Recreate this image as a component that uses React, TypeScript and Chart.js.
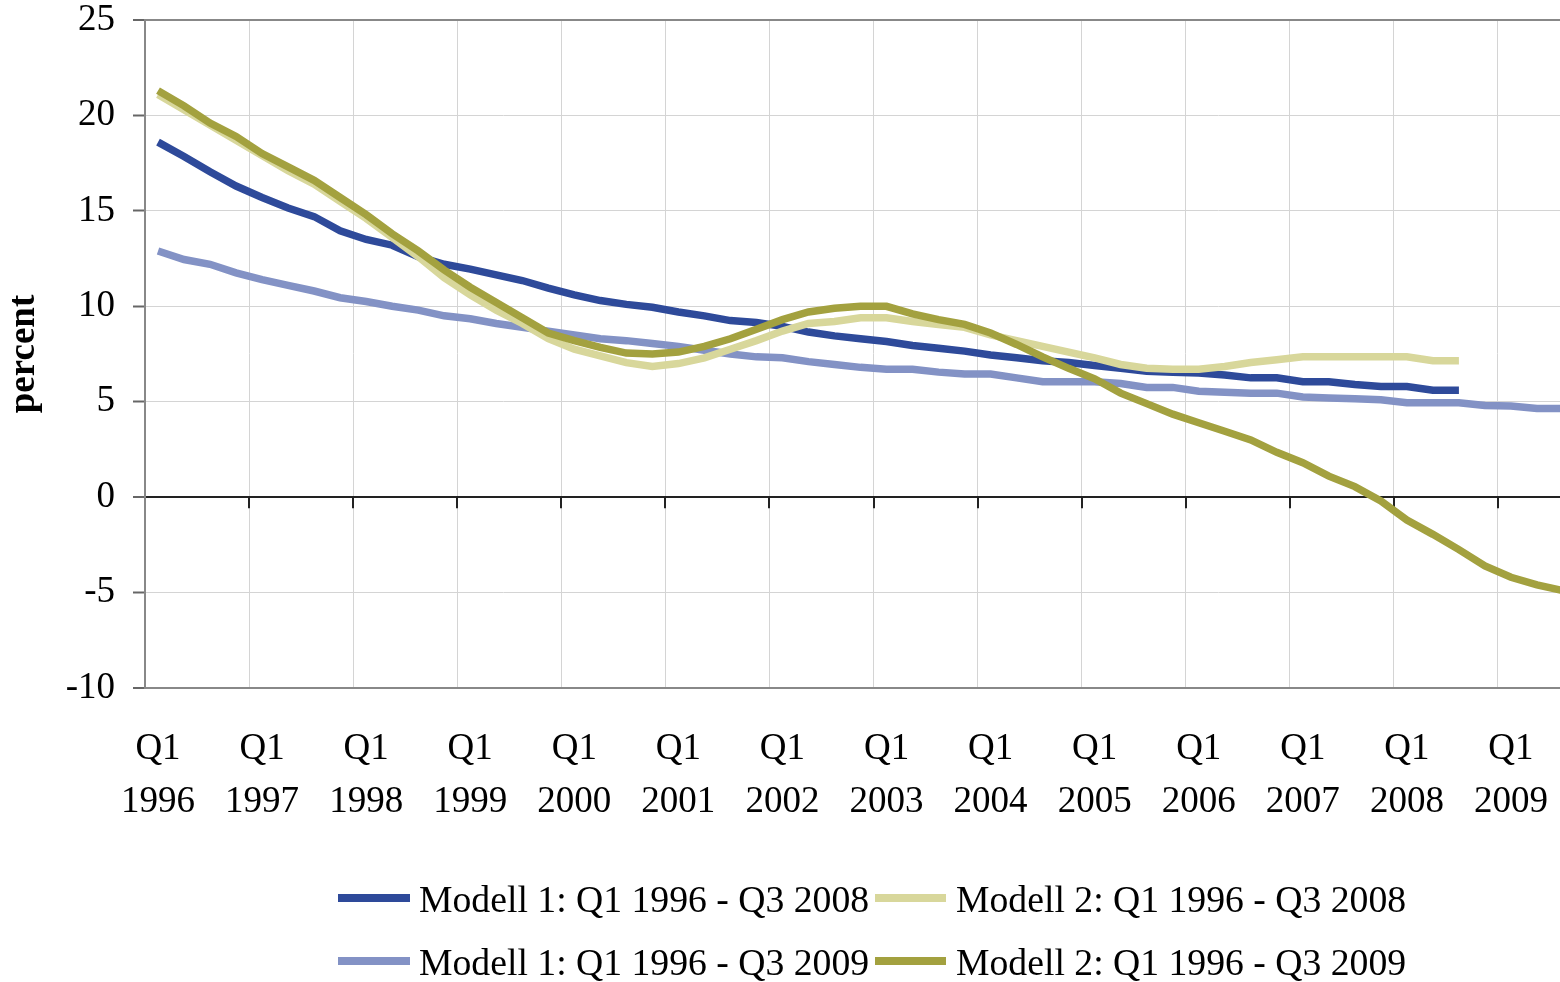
import { useEffect, useRef } from "react";
import { Chart, registerables } from "chart.js";

Chart.register(...registerables);

const years = [1996, 1997, 1998, 1999, 2000, 2001, 2002, 2003, 2004, 2005, 2006, 2007, 2008, 2009];
const quarters = ["Q1", "Q2", "Q3", "Q4"];
const lastYearQuarters = 3; // data run to Q3 2009

const yTicks = [-10, -5, 0, 5, 10, 15, 20, 25];

// Modell 1: Q1 1996 - Q3 2008
const modell1To2008 = [
  18.6, 17.85, 17.05, 16.3, 15.7, 15.15, 14.7, 13.95, 13.5, 13.2,
  12.6, 12.2, 11.95, 11.65, 11.35, 10.95, 10.6, 10.3, 10.1, 9.95,
  9.7, 9.5, 9.25, 9.15, 8.95, 8.65, 8.45, 8.3, 8.15, 7.95,
  7.8, 7.65, 7.45, 7.3, 7.15, 7.05, 6.9, 6.75, 6.6, 6.55,
  6.5, 6.4, 6.25, 6.25, 6.05, 6.05, 5.9, 5.8, 5.8, 5.6, 5.6,
];

// Modell 2: Q1 1996 - Q3 2008
const modell2To2008 = [
  21.1, 20.3, 19.5, 18.7, 17.9, 17.1, 16.4, 15.5, 14.6, 13.6,
  12.6, 11.5, 10.6, 9.8, 9.1, 8.3, 7.75, 7.4, 7.05, 6.85,
  7.0, 7.3, 7.75, 8.2, 8.7, 9.1, 9.2, 9.4, 9.4, 9.2,
  9.05, 8.9, 8.5, 8.2, 7.9, 7.6, 7.3, 6.95, 6.75, 6.7,
  6.7, 6.85, 7.05, 7.2, 7.35, 7.35, 7.35, 7.35, 7.35, 7.15, 7.15,
];

// Modell 1: Q1 1996 - Q3 2009
const modell1To2009 = [
  12.9, 12.45, 12.2, 11.75, 11.4, 11.1, 10.8, 10.45, 10.25, 10.0,
  9.8, 9.5, 9.35, 9.1, 8.9, 8.7, 8.5, 8.3, 8.2, 8.05,
  7.9, 7.7, 7.5, 7.35, 7.3, 7.1, 6.95, 6.8, 6.7, 6.7,
  6.55, 6.45, 6.45, 6.25, 6.05, 6.05, 6.05, 5.95, 5.75, 5.75,
  5.55, 5.5, 5.45, 5.45, 5.25, 5.2, 5.15, 5.1, 4.95, 4.95,
  4.95, 4.8, 4.78, 4.65, 4.65,
];

// Modell 2: Q1 1996 - Q3 2009
const modell2To2009 = [
  21.3, 20.5, 19.6, 18.9, 18.0, 17.3, 16.6, 15.7, 14.8, 13.8,
  12.9, 11.9, 11.0, 10.2, 9.4, 8.6, 8.2, 7.85, 7.55, 7.5,
  7.6, 7.9, 8.3, 8.8, 9.3, 9.7, 9.9, 10.0, 10.0, 9.6,
  9.3, 9.05, 8.6, 8.0, 7.35, 6.75, 6.2, 5.45, 4.9, 4.35,
  3.9, 3.45, 3.0, 2.35, 1.8, 1.1, 0.55, -0.2, -1.2, -1.95,
  -2.75, -3.6, -4.2, -4.6, -4.9,
];

const seriesNames = [
  "Modell 1: Q1 1996 - Q3 2008",
  "Modell 2: Q1 1996 - Q3 2008",
  "Modell 1: Q1 1996 - Q3 2009",
  "Modell 2: Q1 1996 - Q3 2009",
];
const seriesColors = ["#2E4A9A", "#D8D79B", "#8392C5", "#A3A13F"];

const categories: { q: string; y: number }[] = [];
years.forEach((y, yi) => {
  quarters.forEach((q, qi) => {
    if (yi === years.length - 1 && qi >= lastYearQuarters) return;
    categories.push({ q, y });
  });
});

const FONT = "'Liberation Serif', 'Times New Roman', serif";
const FS = 37;
const LEGEND_FS = 37.7;

export default function App() {
  const ref = useRef<HTMLCanvasElement>(null);

  useEffect(() => {
    const canvas = ref.current;
    if (!canvas) return;

    const zeroTickPlugin = {
      id: "zeroTicks",
      beforeDatasetsDraw(chart: any) {
        const x = chart.scales.x;
        const y = chart.scales.y;
        const ctx = chart.ctx;
        const y0 = y.getPixelForValue(0);
        ctx.save();
        ctx.strokeStyle = "#222";
        ctx.lineWidth = 2;
        categories.forEach((c, i) => {
          if (i === 0 || c.q !== "Q1") return;
          const px = Math.round((x.getPixelForValue(i - 1) + x.getPixelForValue(i)) / 2);
          ctx.beginPath();
          ctx.moveTo(px, y0);
          ctx.lineTo(px, y0 + 11);
          ctx.stroke();
        });
        ctx.restore();
      },
    };

    const labels = categories.map((c) => `${c.q} ${c.y}`);
    const dsOrder = [3, 1, 0, 2];
    const allData = [modell1To2008, modell2To2008, modell1To2009, modell2To2009];

    const chart = new Chart(canvas, {
      type: "line",
      data: {
        labels,
        datasets: dsOrder.map((k) => ({
          label: seriesNames[k],
          data: allData[k],
          borderColor: seriesColors[k],
          backgroundColor: seriesColors[k],
          borderWidth: 7.5,
          pointRadius: 0,
          pointHoverRadius: 0,
          tension: 0,
          fill: false,
        })),
      },
      options: {
        animation: false,
        responsive: false,
        events: [],
        layout: { padding: { top: 20, right: 24, left: 0, bottom: 0 } },
        plugins: {
          legend: { display: false },
          tooltip: { enabled: false },
        },
        scales: {
          x: {
            type: "category",
            offset: true,
            afterFit: (s: any) => {
              s.height = 294;
              s.paddingLeft = 0;
              s.paddingRight = 0;
            },
            grid: {
              offset: true,
              drawTicks: false,
              color: (ctx: any) =>
                ctx.index < categories.length && categories[ctx.index].q === "Q1" && ctx.index > 0
                  ? "#d4d4d4"
                  : "rgba(0,0,0,0)",
              lineWidth: 1,
            },
            border: { display: true, color: "#888", width: 2 },
            ticks: {
              autoSkip: false,
              maxRotation: 0,
              minRotation: 0,
              padding: 35,
              color: "#000",
              font: { family: FONT, size: FS, lineHeight: 1.42 },
              callback: (_v: any, i: number) =>
                categories[i].q === "Q1" ? [categories[i].q, String(categories[i].y)] : "",
            },
          },
          y: {
            min: yTicks[0],
            max: yTicks[yTicks.length - 1],
            afterFit: (s: any) => {
              s.width = 145;
              s.paddingTop = 0;
              s.paddingBottom = 0;
            },
            afterBuildTicks: (s: any) => {
              s.ticks = yTicks.map((v) => ({ value: v }));
            },
            grid: {
              color: (ctx: any) => {
                const v = ctx.tick ? ctx.tick.value : null;
                if (v === 0) return "#222";
                if (v === yTicks[0] || v === yTicks[yTicks.length - 1]) return "#888";
                return "#d4d4d4";
              },
              lineWidth: (ctx: any) => {
                const v = ctx.tick ? ctx.tick.value : null;
                if (v === 0) return 2;
                if (v === yTicks[0] || v === yTicks[yTicks.length - 1]) return 2;
                return 1;
              },
              tickColor: "#666",
              tickLength: 12,
              tickWidth: 2,
            },
            border: { display: true, color: "#888", width: 2 },
            ticks: {
              padding: 18,
              color: "#000",
              font: { family: FONT, size: FS, lineHeight: 1 },
            },
            title: {
              display: true,
              text: "percent",
              color: "#000",
              font: { family: FONT, size: FS, weight: "bold", lineHeight: 1 },
              padding: { top: 6, bottom: 0 },
            },
          },
        },
      },
      plugins: [zeroTickPlugin],
    } as any);

    return () => chart.destroy();
  }, []);

  const legendRows = [
    [0, 1],
    [2, 3],
  ];
  const rowBaselines = [913, 976];
  const colLine = [
    { x: 338, w: 72, tx: 419 },
    { x: 875, w: 71, tx: 956 },
  ];

  return (
    <div
      style={{
        position: "fixed",
        left: 0,
        top: 0,
        width: 1560,
        height: 982,
        overflow: "hidden",
        background: "#fff",
      }}
    >
      <canvas ref={ref} width={1600} height={982} style={{ display: "block", width: 1600, height: 982 }} />
      {legendRows.map((row, ri) =>
        row.map((k, ci) => (
          <div key={`${ri}-${ci}`}>
            <div
              style={{
                position: "absolute",
                left: colLine[ci].x,
                top: rowBaselines[ri] - 19,
                width: colLine[ci].w,
                height: 8,
                background: seriesColors[k],
              }}
            />
            <div
              style={{
                position: "absolute",
                left: colLine[ci].tx,
                top: rowBaselines[ri] - 32,
                fontFamily: FONT,
                fontSize: LEGEND_FS,
                lineHeight: `${LEGEND_FS}px`,
                color: "#000",
                whiteSpace: "nowrap",
              }}
            >
              {seriesNames[k]}
            </div>
          </div>
        ))
      )}
    </div>
  );
}
